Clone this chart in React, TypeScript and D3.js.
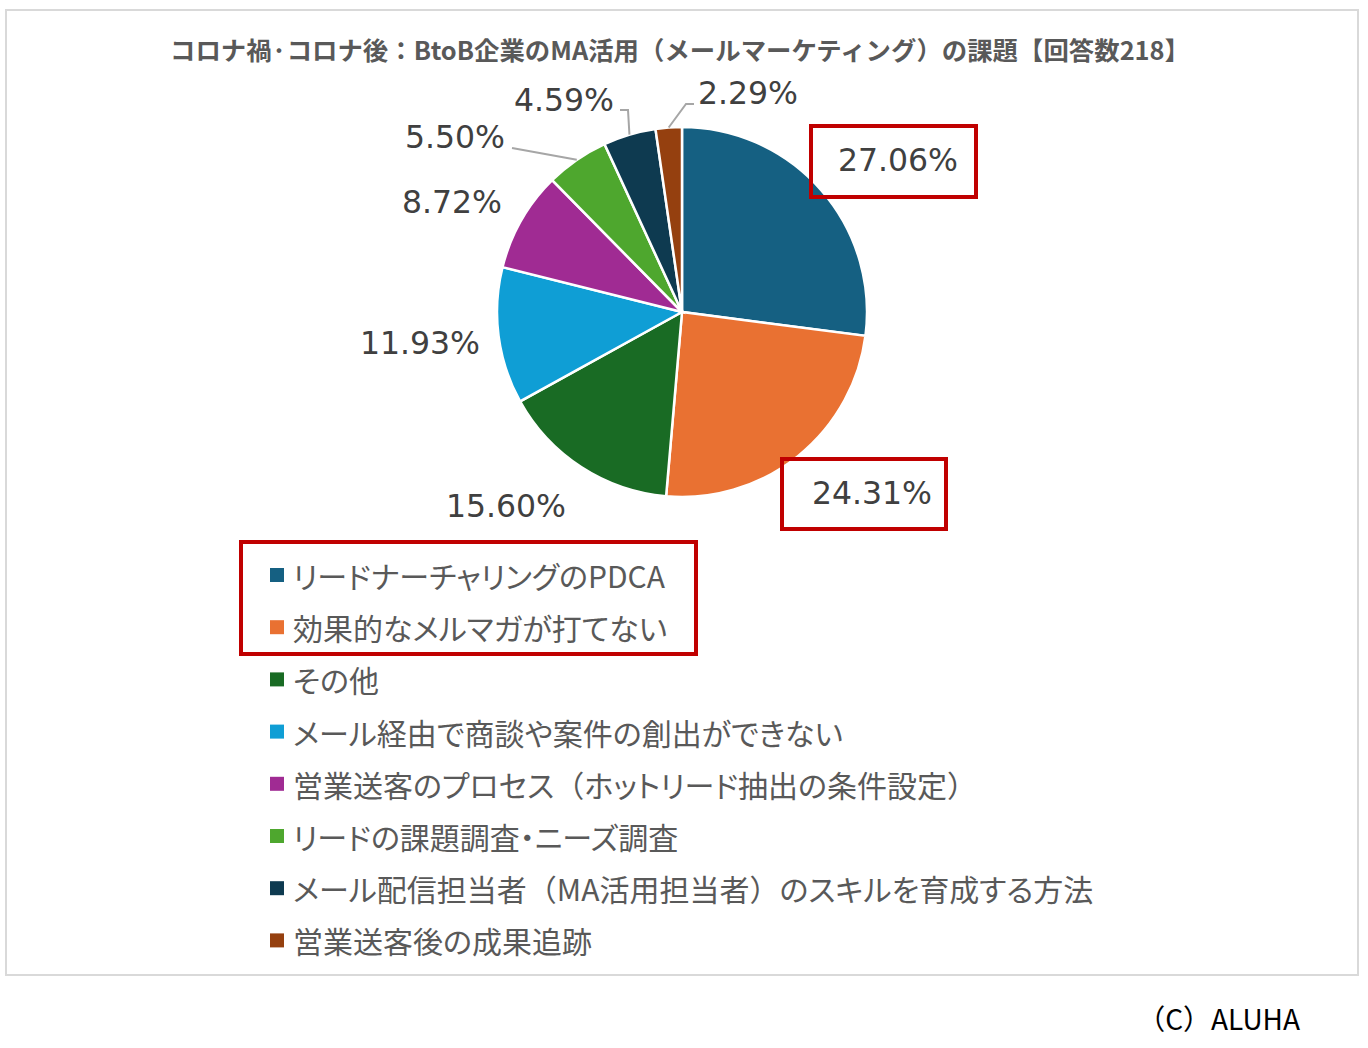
import React from "react";
import * as d3 from "d3";

const categories = [
  "リードナーチャリングのPDCA",
  "効果的なメルマガが打てない",
  "その他",
  "メール経由で商談や案件の創出ができない",
  "営業送客のプロセス（ホットリード抽出の条件設定）",
  "リードの課題調査・ニーズ調査",
  "メール配信担当者（MA活用担当者）のスキルを育成する方法",
  "営業送客後の成果追跡",
];
const values = [27.06, 24.31, 15.6, 11.93, 8.72, 5.5, 4.59, 2.29];
const colors = ["#156082", "#E97132", "#196B24", "#0F9ED5", "#A02B93", "#4EA72E", "#0E3A50", "#95400F"];

// label layout (annotation positions)
const labelPos: [number, number][] = [
  [898, 160],
  [872, 493],
  [506, 506],
  [420, 343],
  [452, 202],
  [455, 137],
  [564, 100],
  [748, 93],
];
// leader line start points (only for small slices)
const leaderStart: ([number, number][] | null)[] = [
  null, null, null, null, null,
  [[512, 148]],
  [[620, 110], [628, 110]],
  [[694, 104], [686, 104]],
];

const W = 1368, H = 1048;
const cx = 682, cy = 312, R = 185;

function LegendText({ s }: { s: string }) {
  const parts = s.split(/([（）])/).filter((p) => p.length > 0);
  return (
    <>
      {parts.map((p, i) => (
        <tspan key={i} style={{ fontFeatureSettings: p === "（" || p === "）" ? "normal" : "'palt'" }}>{p}</tspan>
      ))}
    </>
  );
}

export default function App() {
  const pie = d3.pie<number>().sort(null).value((d) => d);
  const arcs = pie(values);
  const arc = d3.arc<d3.PieArcDatum<number>>().innerRadius(0).outerRadius(R);
  const fmt = (v: number) => v.toFixed(2) + "%";
  const legendY0 = 575, legendStep = 52.2;
  return (
    <svg width={W} height={H} style={{ position: "absolute", left: 0, top: 0, background: "#fff" }}>
      <rect x={6} y={10} width={1352} height={965} fill="#fff" stroke="#d9d9d9" strokeWidth={2} />
      <text x={680} y={60} textAnchor="middle" fontFamily="'Noto Sans CJK JP'" fontWeight="bold" fontSize={25}
        fill="#595959" textLength={1020} lengthAdjust="spacingAndGlyphs">
        コロナ禍·コロナ後：BtoB企業のMA活用（メールマーケティング）の課題【回答数218】
      </text>
      <g transform={`translate(${cx},${cy})`}>
        {arcs.map((a, i) => (
          <path key={i} d={arc(a) || ""} fill={colors[i]} stroke="#fff" strokeWidth={2.5} />
        ))}
      </g>
      {arcs.map((a, i) => {
        const st = leaderStart[i];
        if (!st) return null;
        const mid = (a.startAngle + a.endAngle) / 2;
        const ex = cx + R * Math.sin(mid), ey = cy - R * Math.cos(mid);
        const pts = [...st, [ex, ey]] as [number, number][];
        return <path key={"l" + i} d={d3.line()(pts) || ""} fill="none" stroke="#a6a6a6" strokeWidth={2} />;
      })}
      {values.map((v, i) => (
        <text key={"t" + i} x={labelPos[i][0]} y={labelPos[i][1]} textAnchor="middle" dominantBaseline="central"
          fontFamily="'DejaVu Sans'" fontSize={31.5} fill="#404040">{fmt(v)}</text>
      ))}
      <rect x={811} y={126} width={165} height={71} fill="none" stroke="#C00000" strokeWidth={4} />
      <rect x={782} y={459} width={164} height={70} fill="none" stroke="#C00000" strokeWidth={4} />
      {categories.map((c, i) => {
        const y = legendY0 + i * legendStep;
        return (
          <g key={"g" + i}>
            <rect x={270} y={y - 7} width={14} height={14} fill={colors[i]} />
            <text x={293} y={y} dominantBaseline="central" fontFamily="'Noto Sans CJK JP'" fontSize={30} fill="#595959">
              <LegendText s={c} />
            </text>
          </g>
        );
      })}
      <rect x={241} y={542} width={455} height={112} fill="none" stroke="#C00000" strokeWidth={4} />
      <text x={1300} y={1018} textAnchor="end" dominantBaseline="central" fontFamily="'Noto Sans CJK JP'" fontSize={28} fill="#000">（C）ALUHA</text>
    </svg>
  );
}
